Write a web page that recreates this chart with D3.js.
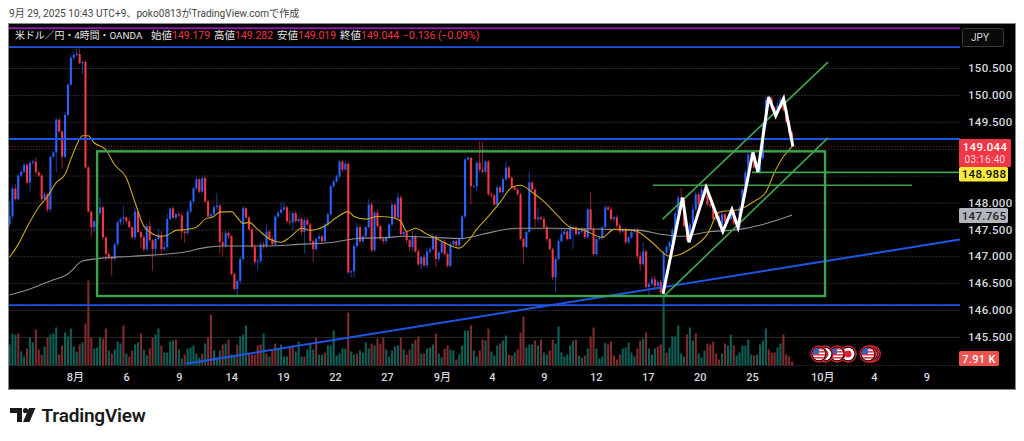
<!DOCTYPE html>
<html><head><meta charset="utf-8">
<script src="https://d3js.org/d3.v7.min.js"></script>
<style>
html,body{margin:0;padding:0;background:#fff;overflow:hidden}
svg{display:block}
text{font-family:Roboto,"Noto Sans CJK JP",sans-serif}
</style></head><body><svg id="c" width="1024" height="441"></svg>
<script>
const firstOpen = 147.59;
const closes = [
147.74,148.26,148.06,148.50,148.57,148.70,148.37,148.74,148.76,148.56,
148.50,148.06,148.15,147.87,148.85,148.93,149.54,149.32,148.85,149.63,
150.19,150.69,150.74,150.76,150.59,150.61,148.65,147.83,147.54,147.65,
147.80,147.91,147.35,147.04,146.98,146.95,147.22,147.63,147.69,147.72,
147.65,147.54,147.35,147.83,147.45,147.35,147.13,147.56,147.30,147.13,
147.32,147.39,147.13,147.17,147.69,147.89,147.72,147.78,147.76,147.46,
147.43,147.83,148.02,148.26,148.43,148.20,148.45,148.02,147.74,147.78,
147.91,147.94,147.26,147.20,147.43,147.37,146.67,146.39,146.54,146.95,
147.89,147.72,147.50,147.17,146.89,146.91,147.22,147.19,147.46,147.32,
147.22,147.74,147.81,147.87,147.91,147.65,147.63,147.80,147.65,147.69,
147.45,147.67,147.59,147.28,147.13,147.32,147.37,147.28,147.59,147.78,
148.30,148.39,148.48,148.76,148.61,148.72,146.70,146.72,147.19,147.54,
147.28,147.37,147.54,147.96,147.11,147.81,147.56,147.32,147.28,147.35,
147.59,147.96,147.72,148.09,147.41,147.45,147.30,147.17,147.37,147.09,
146.85,146.98,146.83,147.09,147.13,147.37,146.95,147.07,147.26,147.04,
146.82,147.22,147.28,147.20,147.32,147.74,148.80,148.83,148.30,148.30,
148.74,148.61,148.57,148.76,148.15,148.13,147.96,148.28,148.19,148.43,
148.65,148.46,148.28,148.24,148.15,147.32,147.17,147.45,148.37,148.24,
147.69,147.72,147.69,147.54,147.32,147.13,146.61,146.95,147.28,147.41,
147.46,147.32,147.52,147.54,147.41,147.46,147.50,147.35,147.87,147.50,
147.04,147.32,147.35,147.54,147.91,147.87,147.69,147.72,147.57,147.46,
147.50,147.26,147.35,147.45,147.50,147.00,146.85,147.09,146.43,146.48,
146.57,146.45,146.52,146.33,147.07,147.17,147.26,147.48,147.80,148.09,
148.06,147.56,147.30,147.59,147.87,148.15,147.96,148.24,148.13,147.96,
147.93,147.69,147.74,147.57,147.78,147.65,147.69,147.83,147.61,147.54,
147.91,148.24,148.56,148.89,148.87,148.65,148.57,148.83,149.45,149.91,
149.93,149.76,149.67,149.81,149.91,149.72,149.50,149.30,149.04];
const upperWicks = [
.28,.05,.08,.04,.05,.03,.03,.04,.04,.08,.03,.03,.05,.03,.03,.03,.03,.03,.03,.05,
.03,.05,.06,.10,.10,.03,.03,.03,.02,.03,.03,.19,.02,.02,.05,.03,.03,.03,.03,.22,
.03,.05,.03,.08,.03,.02,.05,.05,.10,.02,.03,.12,.08,.10,.10,.02,.05,.03,.05,.05,
.02,.05,.03,.03,.05,.03,.03,.06,.03,.03,.04,.24,.03,.20,.05,.03,.03,.03,.03,.03,
.05,.03,.03,.03,.05,.05,.05,.05,.15,.03,.05,.03,.04,.14,.10,.03,.20,.05,.04,.03,
.04,.05,.05,.03,.03,.04,.05,.03,.03,.03,.03,.04,.03,.04,.03,.05,.03,.02,.05,.08,
.05,.03,.03,.10,.05,.04,.06,.03,.05,.03,.03,.05,.03,.09,.05,.03,.03,.03,.10,.03,
.05,.03,.06,.06,.05,.05,.02,.03,.06,.05,.03,.05,.03,.03,.03,.03,.03,.03,.02,.03,
.03,.40,.52,.03,.03,.05,.03,.05,.04,.03,.11,.03,.03,.03,.03,.03,.03,.03,.20,.03,
.04,.18,.03,.06,.05,.03,.03,.03,.05,.10,.05,.03,.09,.03,.03,.05,.04,.03,.03,.33,
.05,.03,.03,.03,.05,.03,.05,.03,.05,.05,.03,.03,.03,.03,.03,.03,.08,.17,.03,.05,
.05,.06,.03,.05,.03,.03,.03,.03,.05,.05,.18,.03,.03,.05,.10,.05,.05,.08,.10,.03,
.03,.03,.03,.05,.04,.03,.03,.03,.03,.03,.03,.03,.05,.03,.03,.03,.03,.03,.03,.05,
.06,.05,.03,.07,.05,.04,.03,.03,.03];
const lowerWicks = [
.05,.05,.03,.03,.03,.03,.04,.18,.05,.04,.03,.03,.03,.05,.05,.03,.37,.03,.22,.03,
.03,.03,.05,.03,.02,.20,.02,.02,.18,.10,.05,.05,.05,.13,.03,.31,.03,.03,.05,.10,
.06,.03,.03,.05,.03,.20,.04,.03,.05,.41,.10,.03,.12,.03,.03,.03,.02,.05,.03,.13,
.18,.03,.03,.05,.03,.03,.03,.03,.05,.03,.03,.05,.20,.20,.05,.05,.03,.03,.13,.05,
.05,.03,.03,.03,.05,.15,.05,.05,.05,.03,.03,.03,.03,.03,.03,.03,.05,.15,.03,.03,
.05,.40,.03,.05,.24,.03,.05,.05,.03,.03,.03,.03,.03,.03,.05,.03,.03,.10,.12,.03,
.05,.03,.03,.03,.03,.03,.03,.03,.05,.05,.03,.03,.03,.03,.03,.05,.05,.08,.08,.03,
.03,.10,.03,.05,.05,.03,.15,.05,.03,.03,.03,.03,.03,.03,.03,.03,.03,.03,.33,.03,
.10,.05,.03,.05,.03,.05,.03,.03,.03,.05,.03,.03,.03,.03,.03,.03,.31,.03,.03,.03,
.15,.05,.03,.03,.05,.03,.05,.28,.03,.03,.03,.03,.03,.39,.03,.03,.05,.03,.03,.03,
.03,.03,.03,.05,.03,.03,.03,.05,.05,.05,.03,.03,.03,.03,.03,.05,.12,.03,.03,.17,
.03,.05,.03,.09,.06,.05,.08,.03,.03,.03,.03,.03,.03,.03,.05,.03,.03,.03,.03,.03,
.03,.03,.05,.03,.03,.03,.05,.03,.03,.03,.03,.05,.05,.03,.03,.03,.03,.05,.05,.03,
.03,.03,.03,.03,.03,.03,.03,.03,.03];
// volume in thousands; negative = bar of a falling candle
const signedVolumes = [
42,64,62,-64,28,18,-34,56,46,-72,-32,-22,38,-56,62,64,76,-22,-40,66,
58,74,38,28,-42,46,-84,-170,-56,34,36,56,-54,-74,30,-24,32,48,44,-80,
24,-18,-30,42,46,-64,32,20,-34,-56,62,74,-40,26,26,48,50,-52,32,14,
-22,34,36,40,24,16,-24,44,-56,-102,30,16,30,-42,44,-52,22,20,-42,58,
62,80,-24,-22,-22,-40,-42,64,-24,18,-30,-44,34,42,18,18,-38,-40,28,48,
18,-18,32,42,32,-56,22,22,-26,40,40,70,20,
24,34,34,-106,28,22,-24,30,26,46,34,-44,40,-54,-44,-56,32,18,30,38,
40,-56,32,-22,-32,44,-52,-58,24,-24,34,36,42,-64,24,16,-34,-40,32,30,
-12,22,40,70,70,-80,30,18,-30,-52,50,-74,28,20,40,-44,50,60,-22,-20,
26,-32,-66,-98,36,42,42,-50,40,-52,26,22,-30,-52,44,78,26,18,22,40,
50,-52,20,16,-20,34,-58,-76,34,14,18,46,-42,-48,-20,-12,-22,34,36,46,
26,18,-34,-50,54,-66,34,22,34,-38,-42,140,
-26,36,58,58,80,
24,18,-62,76,50,-64,24,16,30,-44,-42,-48,-24,-12,24,-44,40,62,-40,20,
26,40,40,52,22,-20,22,42,50,74,-32,-26,-26,36,44,-62,-22,-18,-8];
const yellowBars = [0,3,6,10,13,16,19,21,23,25,27,29,33,36,40,43,46,48,52,54,57,61,64,67,70,72,76,78,80,82,85,89,93,96,100,103,108,112,116,118,122,126,131,134,136,139,143,148,154,157,160,164,168,172,175,179,183,188,192,197,203,207,214,220,226,227,233,239,243,250,255,259,262,265,268];
const yellowPrices = [146.98,147.22,147.54,147.91,148.11,148.37,148.52,148.80,149.07,149.24,149.24,149.11,148.98,148.70,148.46,148.00,147.56,147.45,147.37,147.39,147.48,147.50,147.54,147.69,147.74,147.82,147.83,147.72,147.61,147.63,147.50,147.32,147.26,147.35,147.52,147.48,147.56,147.72,147.83,147.74,147.69,147.74,147.72,147.65,147.46,147.52,147.41,147.28,147.15,147.28,147.50,147.74,148.00,148.28,148.32,148.19,148.02,147.74,147.54,147.48,147.35,147.50,147.48,147.26,147.00,147.00,147.13,147.41,147.82,147.87,148.02,148.19,148.56,148.85,149.04];
const greyBars = [0,7,14,20,25,31,42,59,68,74,88,99,111,119,130,135,145,155,162,174,186,205,216,223,230,239,250,258,268];
const greyPrices = [146.28,146.39,146.54,146.67,146.91,146.96,147.00,147.07,147.17,147.19,147.19,147.22,147.26,147.33,147.35,147.37,147.35,147.33,147.41,147.52,147.52,147.50,147.48,147.41,147.37,147.45,147.50,147.59,147.765];
const zigzagBars = [223.8,230.5,232.7,238.6,244.3,247.4,249.5,254.6,256.3,260,262.4,265.1,268.3];
const zigzagPrices = [146.30,148.09,147.26,148.28,147.46,147.87,147.54,148.93,148.57,149.96,149.61,149.93,149.04];
const gridPrices = [145.5,146,146.5,147,147.5,148,148.5,149,149.5,150,150.5];
const priceTickLabels = [145.5,146,146.5,147,147.5,148,149.5,150,150.5];
const timeTickBars = [22.4,39.9,58,75.9,93.7,111.5,129.3,148.1,165.2,183,200.8,218.6,236.4,254.3,278.3,296,314];
const timeTickLabels = ["8月","6","9","14","19","22","27","9月","4","9","12","17","20","25","10月","4","9"];
const blueLevels = [150.89,149.18,146.09];
const purpleLevel = 151.24;
const lastPrice = 149.044;
const boxBars = [30,279.3];
const boxPrices = [148.95,146.26];
const greenSegments = [[220.4,148.32,309,148.32],[254.3,148.56,325.5,148.56],[223.7,147.69,280.3,150.61],[224.4,146.27,280.3,149.2]];
const blueTrend = [60.4,145,325.5,147.31];
const eventBars = [[287.2,"jp"],[283.4,"us"],[279.3,"jp"],[277.2,"us"],[295.5,"us"],[294.8,"us"],[294,"us"]];
const legendSymbol = "米ドル／円・4時間・OANDA";
const legendItems = [["始値","149.179",151],["高値","149.282",214],["安値","149.019",277],["終値","149.044",340]];
const legendChange = "−0.136 (−0.09%)";

const svg = d3.select("#c");
const x = d3.scaleLinear([0,100],[9.5,301.5]);
const y = d3.scaleLinear([146,150.5],[310,68]);
const vy = d3.scaleLinear([0,200],[365.5,265.5]);
const BLUE="#2962ff",RED="#f23645",GREEN="#3fa34d",LINE="#1f55e6";

svg.append("rect").attr("x",8.5).attr("y",23.5).attr("width",1007).attr("height",366).attr("fill","#000").attr("stroke","#8a8a8a");
const defs=svg.append("defs");
defs.append("clipPath").attr("id","plot").append("rect").attr("x",9).attr("y",24).attr("width",951).attr("height",365);
const plot=svg.append("g").attr("clip-path","url(#plot)");

// grid
plot.selectAll("line.g").data(gridPrices).join("line").attr("class","g")
 .attr("x1",9).attr("x2",960).attr("y1",d=>y(d)+.5).attr("y2",d=>y(d)+.5)
 .attr("stroke","#2b2b2b").attr("stroke-dasharray",d=>d===145.5?null:"2 1");
plot.append("line").attr("x1",9).attr("x2",960).attr("y1",365.5).attr("y2",365.5).attr("stroke","#262626").attr("stroke-dasharray","2 1");

// volume
plot.append("g").selectAll("rect").data(signedVolumes).join("rect")
 .attr("x",(d,i)=>x(i)-1).attr("width",2.1)
 .attr("y",d=>vy(Math.abs(d))).attr("height",d=>vy(0)-vy(Math.abs(d)))
 .attr("fill",d=>d<0?"#7d2b2e":"#0f5f56");

// last price line
plot.append("line").attr("x1",9).attr("x2",960).attr("y1",y(lastPrice)).attr("y2",y(lastPrice))
 .attr("stroke",RED).attr("stroke-opacity",.55).attr("stroke-dasharray","1 2");

// candles
const bars=closes.map((c,i)=>{const o=i?closes[i-1]:firstOpen;return{i,o,c,h:Math.max(o,c)+upperWicks[i],l:Math.min(o,c)-lowerWicks[i]};});
const cg=plot.append("g");
cg.selectAll("line").data(bars).join("line")
 .attr("x1",d=>x(d.i)).attr("x2",d=>x(d.i)).attr("y1",d=>y(d.h)).attr("y2",d=>y(d.l))
 .attr("stroke",d=>d.c>=d.o?BLUE:RED).attr("stroke-opacity",.6).attr("stroke-width",1);
cg.selectAll("rect").data(bars).join("rect")
 .attr("x",d=>x(d.i)-1).attr("width",2.1)
 .attr("y",d=>y(Math.max(d.o,d.c))).attr("height",d=>Math.max(1,Math.abs(y(d.o)-y(d.c))))
 .attr("fill",d=>d.c>=d.o?BLUE:RED);

// moving averages
const ln=d3.line().x(d=>x(d[0])).y(d=>y(d[1])).curve(d3.curveMonotoneX);
plot.append("path").attr("d",ln(d3.zip(greyBars,greyPrices))).attr("fill","none").attr("stroke","#8f8f8f").attr("stroke-width",1.1);
plot.append("path").attr("d",ln(d3.zip(yellowBars,yellowPrices))).attr("fill","none").attr("stroke","#c9a520").attr("stroke-width",1.1);

// drawings
plot.append("line").attr("x1",9).attr("x2",1015).attr("y1",y(purpleLevel)).attr("y2",y(purpleLevel)).attr("stroke","#8a1ca0").attr("stroke-width",2);
plot.selectAll("line.b").data(blueLevels).join("line").attr("class","b")
 .attr("x1",9).attr("x2",960).attr("y1",d=>y(d)).attr("y2",d=>y(d)).attr("stroke",LINE).attr("stroke-width",1.8);
plot.append("line").attr("x1",x(blueTrend[0])).attr("y1",y(blueTrend[1])).attr("x2",x(blueTrend[2])).attr("y2",y(blueTrend[3])).attr("stroke",LINE).attr("stroke-width",2);
plot.append("rect").attr("x",x(boxBars[0])).attr("y",y(boxPrices[0])).attr("width",x(boxBars[1])-x(boxBars[0])).attr("height",y(boxPrices[1])-y(boxPrices[0]))
 .attr("fill","none").attr("stroke",GREEN).attr("stroke-width",2.4);
plot.selectAll("line.s").data(greenSegments).join("line").attr("class","s")
 .attr("x1",d=>x(d[0])).attr("y1",d=>y(d[1])).attr("x2",d=>x(d[2])).attr("y2",d=>y(d[3])).attr("stroke",GREEN).attr("stroke-width",1.7);
plot.append("path").attr("d",d3.line().x(d=>x(d[0])).y(d=>y(d[1]))(d3.zip(zigzagBars,zigzagPrices)))
 .attr("fill","none").attr("stroke","#fff").attr("stroke-width",3).attr("stroke-linejoin","miter");

// events
defs.append("clipPath").attr("id","flag").append("circle").attr("r",6.3);
const ev=plot.append("g").selectAll("g").data(eventBars).join("g").attr("transform",d=>`translate(${x(d[0])},354)`);
ev.append("circle").attr("r",8).attr("fill","#000").attr("stroke","#d6202f").attr("stroke-width",1.3);
ev.append("circle").attr("r",6.3).attr("fill","#fff");
ev.filter(d=>d[1]==="jp").append("circle").attr("r",3.4).attr("fill","#e0202f");
const us=ev.filter(d=>d[1]==="us").append("g").attr("clip-path","url(#flag)");
us.selectAll("rect.st").data([-6,-3,0,3]).join("rect").attr("class","st").attr("x",-7).attr("width",14).attr("y",d=>d).attr("height",1.6).attr("fill","#e0404a");
us.append("rect").attr("x",-7).attr("y",-7).attr("width",7).attr("height",7).attr("fill","#3b5fc0");

// axes
const ya=d3.axisRight(y).tickValues(priceTickLabels).tickFormat(d3.format(".3f")).tickSize(0).tickPadding(0);
const yg=svg.append("g").attr("transform","translate(968,0)").call(ya);
yg.select(".domain").remove();
yg.selectAll("text").attr("fill","#d6d8dd").attr("font-size",11.5).attr("font-weight",500).attr("letter-spacing",.3);
const xa=d3.axisBottom(x).tickValues(timeTickBars).tickFormat((d,i)=>timeTickLabels[i]).tickSize(0).tickPadding(0);
const xg=svg.append("g").attr("transform","translate(0,373)").call(xa);
xg.select(".domain").remove();
xg.selectAll("text").attr("fill","#d6d8dd").attr("font-size",11).attr("font-weight",500);

// legend
const lt=svg.append("g").attr("font-size",10.5).attr("fill","#e6e6e6");
lt.append("text").attr("x",15).attr("y",39).attr("font-size",9.9).text(legendSymbol);
legendItems.forEach(d=>{
 lt.append("text").attr("x",d[2]).attr("y",39).text(d[0]);
 lt.append("text").attr("x",d[2]+21).attr("y",39).attr("fill",RED).text(d[1]);
});
lt.append("text").attr("x",403).attr("y",39).attr("fill",RED).text(legendChange);

// JPY button
svg.append("rect").attr("x",962.5).attr("y",28.5).attr("width",41).attr("height",18).attr("rx",2).attr("fill","#0a0a0a").attr("stroke","#3a3a3a");
svg.append("text").attr("x",980).attr("y",41).attr("text-anchor","middle").attr("fill","#d6d8dd").attr("font-size",10).text("JPY");

// price labels
function tag(yy,h,w,fill){svg.append("rect").attr("x",959).attr("y",yy).attr("width",w).attr("height",h).attr("rx",1.5).attr("fill",fill);}
tag(139,28,52,"#f23645");tag(167,14.5,49,"#ffeb3b");tag(208,15,49,"#b2b5be");tag(351,15,40,"#ef5350");
const lab=(t,xx,yy,f,s,w)=>svg.append("text").attr("x",xx).attr("y",yy).attr("fill",f).attr("font-size",s).attr("font-weight",w||500).attr("text-anchor","middle").attr("letter-spacing",.3).text(t);
lab("149.044",985,151,"#fff",11.5);lab("03:16:40",985,162.5,"#ffd9dc",10,400);
lab("148.988",984,178,"#111",11.5);lab("147.765",984,220,"#222",11.5);lab("7.91 K",979,362.5,"#fff",11);

// header & logo
svg.append("text").attr("x",9).attr("y",17).attr("fill","#444").attr("font-size",10.1).text("9月 29, 2025 10:43 UTC+9、poko0813がTradingView.comで作成");
const lg=svg.append("g").attr("fill","#1a1a1a");
lg.append("path").attr("d","M10 408H22V422H17V413H10Z");
lg.append("circle").attr("cx",25.5).attr("cy",410.6).attr("r",2.6);
lg.append("path").attr("d","M29 408H35.5L29.5 422H23Z");
svg.append("text").attr("x",41.5).attr("y",422).attr("fill","#1a1a1a").attr("font-size",19).attr("font-weight",600).attr("font-family","Inter,Roboto,sans-serif").attr("letter-spacing",-.2).text("TradingView");
</script></body></html>
